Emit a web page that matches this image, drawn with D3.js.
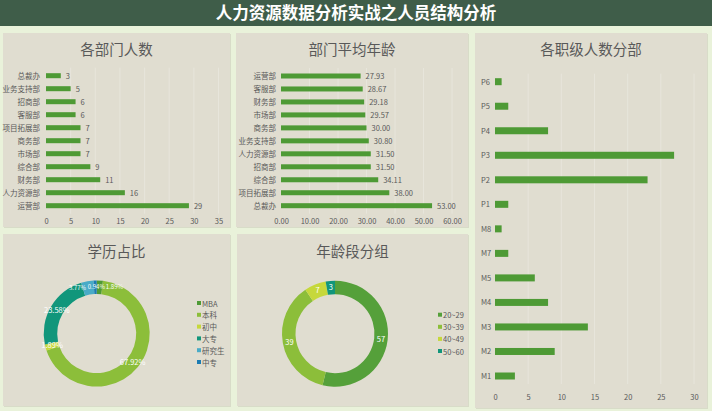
<!DOCTYPE html>
<html><head><meta charset="utf-8">
<script src="https://cdn.jsdelivr.net/npm/d3@7"></script>
<style>
html,body{margin:0;padding:0;background:#E9F2DA;}
svg{display:block;font-family:"Noto Sans CJK SC","Noto Sans",sans-serif;}
</style></head><body>
<svg id="c" width="712" height="411"></svg>
<script>
const deptNames = ["总裁办","业务支持部","招商部","客服部","项目拓展部","商务部","市场部","综合部","财务部","人力资源部","运营部"];
const deptCounts = [3,5,6,6,7,7,7,9,11,16,29];
const ageDepts = ["运营部","客服部","财务部","市场部","商务部","业务支持部","人力资源部","招商部","综合部","项目拓展部","总裁办"];
const ageAvg = [27.93,28.67,29.18,29.57,30.00,30.80,31.50,31.50,34.11,38.00,53.00];
const levels = ["P6","P5","P4","P3","P2","P1","M8","M7","M5","M4","M3","M2","M1"];
const levelCounts = [1,2,8,27,23,2,1,2,6,8,14,9,3];
const eduNames = ["MBA","本科","初中","大专","研究生","中专"];
const eduCounts = [2,72,2,25,4,1];
const ageGroups = ["20~29","30~39","40~49","50~60"];
const ageGroupCounts = [57,39,7,3];
const ticksA = [0,5,10,15,20,25,30,35];
const ticksB = [0,10,20,30,40,50,60];
const ticksC = [0,5,10,15,20,25,30];

const svg = d3.select("#c");
const txt = "#595959", bar = "#4E9A35", panelBg = "#E0DDD0", grid = "#E7E5DB";
const eduColors = ["#4E9A35","#8CBE3A","#C6D83B","#11967B","#49ABC7","#1C7CB3"];
const ageColors = ["#55A03A","#8CBE3A","#C6D83B","#11967B"];

// title bar
svg.append("rect").attr("x",0).attr("y",0).attr("width",712).attr("height",26).attr("fill","#3F5D49");
svg.append("text").attr("x",356).attr("y",19).attr("text-anchor","middle").attr("fill","#fff")
  .attr("font-size",16.5).attr("font-weight","bold").text("人力资源数据分析实战之人员结构分析");

function panel(x,y,w,h,title,ty){
  svg.append("rect").attr("x",x+1).attr("y",y+1).attr("width",w).attr("height",h).attr("fill","#D8DCC8");
  svg.append("rect").attr("x",x).attr("y",y).attr("width",w).attr("height",h).attr("fill",panelBg);
  svg.append("text").attr("x",x+w/2).attr("y",ty).attr("text-anchor","middle").attr("fill",txt)
    .attr("font-size",14.5).text(title);
}
panel(3,33,227,194,"各部门人数",55);
panel(236,33,232,194,"部门平均年龄",55);
panel(475,33,232,375,"各职级人数分部",55);
panel(3,234,227,172,"学历占比",257);
panel(237,234,231,172,"年龄段分组",257);

function hbar(opts){
  const {names,vals,x0,x1,yTop,yBot,max,ticks,fmt,labelX,anchor,barH,showVal,axisY,tickFmt} = opts;
  const x = d3.scaleLinear().domain([0,max]).range([x0,x1]);
  const y = d3.scalePoint().domain(names).range([yTop,yBot]);
  const g = svg.append("g");
  g.selectAll(".gl").data(ticks.slice(1)).join("line")
    .attr("x1",d=>x(d)).attr("x2",d=>x(d)).attr("y1",yTop-8).attr("y2",yBot+8)
    .attr("stroke",grid).attr("stroke-width",1);
  g.selectAll(".b").data(vals).join("rect")
    .attr("x",x(0)).attr("y",(d,i)=>y(names[i])-barH/2)
    .attr("width",d=>x(d)-x(0)).attr("height",barH).attr("fill",bar);
  g.selectAll(".lb").data(names).join("text")
    .attr("x",labelX).attr("y",d=>y(d)+3).attr("text-anchor",anchor)
    .attr("font-size",7.5).attr("fill",txt).text(d=>d);
  if(showVal){
    g.selectAll(".v").data(vals).join("text")
      .attr("x",d=>x(d)+5).attr("y",(d,i)=>y(names[i])+3)
      .attr("font-size",7.5).attr("fill",txt).text(d=>fmt(d));
  }
  const ax = d3.axisBottom(x).tickValues(ticks).tickSize(0).tickFormat(tickFmt);
  const a = g.append("g").attr("transform",`translate(0,${axisY})`).call(ax);
  a.select(".domain").remove();
  a.selectAll("text").attr("fill",txt).attr("font-size",7.5)
    .attr("font-family",'"Noto Sans CJK SC","Noto Sans",sans-serif');
}
hbar({names:deptNames,vals:deptCounts,x0:46,x1:218.5,yTop:75.7,yBot:205.7,max:35,ticks:ticksA,
  fmt:d=>d,labelX:40,anchor:"end",barH:5,showVal:true,axisY:216,tickFmt:d=>d});
hbar({names:ageDepts,vals:ageAvg,x0:281,x1:452,yTop:76,yBot:205.7,max:60,ticks:ticksB,
  fmt:d=>d.toFixed(2),labelX:276,anchor:"end",barH:5,showVal:true,axisY:216,tickFmt:d=>d.toFixed(2)});
hbar({names:levels,vals:levelCounts,x0:495,x1:694,yTop:81.7,yBot:376,max:30,ticks:ticksC,
  fmt:d=>d,labelX:481,anchor:"start",barH:7,showVal:false,axisY:392,tickFmt:d=>d});

function donut(cx,cy,names,vals,colors,labelFmt,legX,legY,legStep,nudge){
  const pie = d3.pie().sort(null).value(d=>d);
  const arcs = pie(vals);
  const arc = d3.arc().innerRadius(39.5).outerRadius(53);
  const g = svg.append("g").attr("transform",`translate(${cx},${cy})`);
  g.selectAll("path").data(arcs).join("path").attr("d",arc).attr("fill",(d,i)=>colors[i]);
  const total = d3.sum(vals);
  g.selectAll("text").data(arcs).join("text")
    .attr("transform",(d,i)=>{const c=arc.centroid(d);const n=nudge[i]||[0,0,7.5];return `translate(${c[0]+n[0]},${c[1]+n[1]})`;})
    .attr("text-anchor","middle").attr("dy","0.35em").attr("font-size",(d,i)=>(nudge[i]||[0,0,7.5])[2]).attr("fill","#fff")
    .text(d=>labelFmt(d.data,total));
  const lg = svg.append("g");
  names.forEach((n,i)=>{
    lg.append("rect").attr("x",legX).attr("y",legY+i*legStep-3).attr("width",4).attr("height",4).attr("fill",colors[i]);
    lg.append("text").attr("x",legX+5).attr("y",legY+i*legStep+2.5).attr("font-size",7.5).attr("fill",txt).text(n);
  });
}
// label nudges [dx, dy, fontSize] to keep the crowded top labels apart
donut(96.7,333.5,eduNames,eduCounts,eduColors,(d,t)=>(d/t*100).toFixed(2)+"%",197,304,11.8,
  {0:[15,0,6],4:[-11,0,6],5:[1,0,6]});
donut(335,333.7,ageGroups,ageGroupCounts,ageColors,(d,t)=>d,438,315.7,12.1,{});
</script></body></html>
